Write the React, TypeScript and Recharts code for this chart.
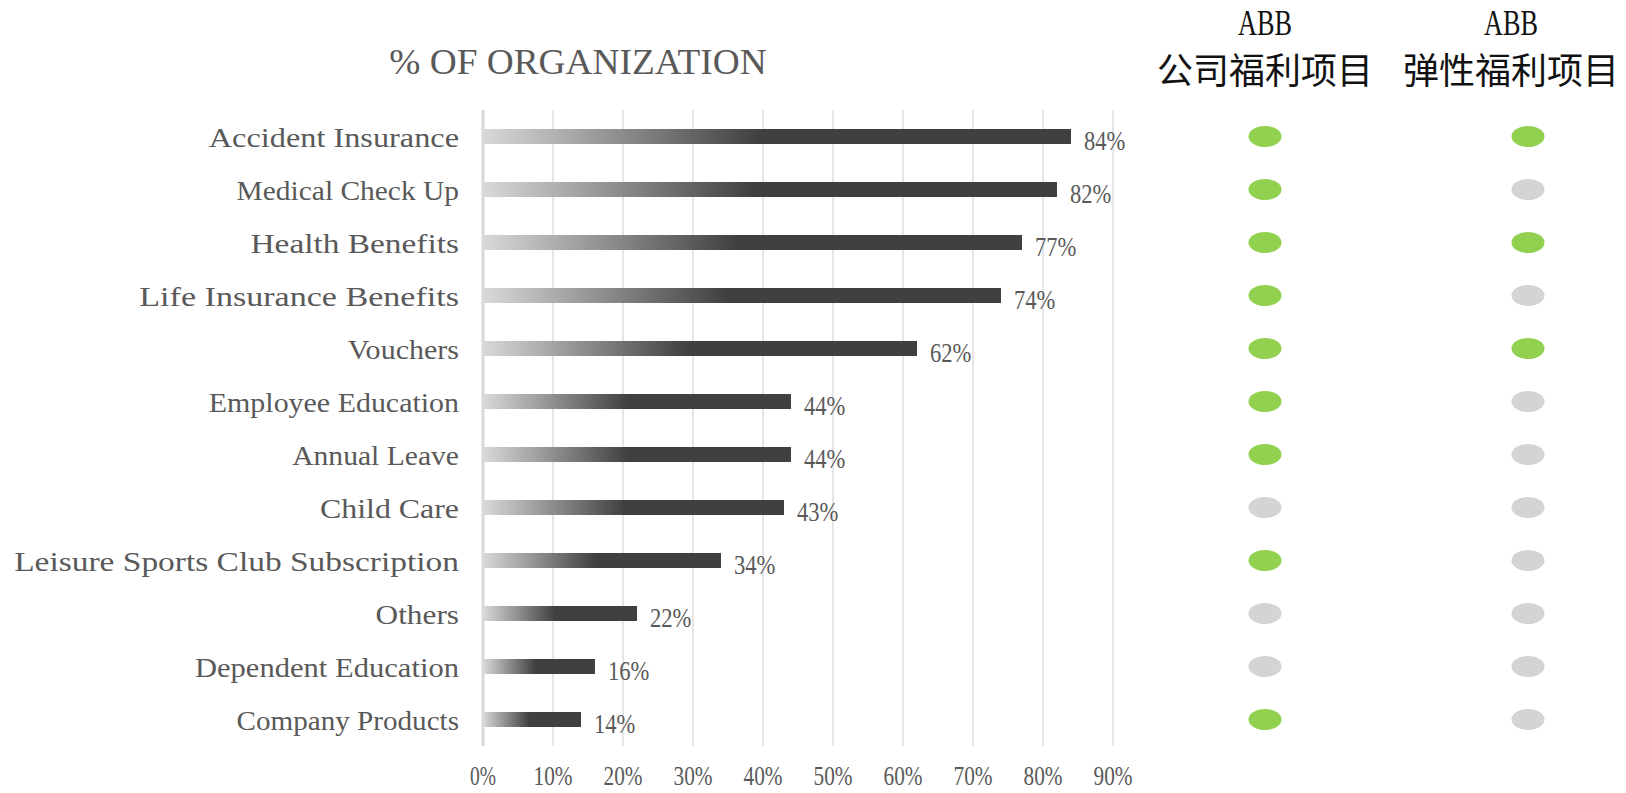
import React from 'react';
import {
  BarChart, Bar, XAxis, YAxis, CartesianGrid, LabelList,
  ScatterChart, Scatter,
} from 'recharts';

// categorias (de cima para baixo) e % de organizações
const categories = [
  'Accident Insurance',
  'Medical Check Up',
  'Health Benefits',
  'Life Insurance Benefits',
  'Vouchers',
  'Employee Education',
  'Annual Leave',
  'Child Care',
  'Leisure Sports Club Subscription',
  'Others',
  'Dependent Education',
  'Company Products',
];
const shares = [84, 82, 77, 74, 62, 44, 44, 43, 34, 22, 16, 14];
const xTicks = [0, 10, 20, 30, 40, 50, 60, 70, 80, 90];

// 1 = oferecido (verde), 0 = não (cinza)
const abbCompany = [1, 1, 1, 1, 1, 1, 1, 0, 1, 0, 0, 1];
const abbFlexible = [1, 0, 1, 0, 1, 0, 0, 0, 0, 0, 0, 0];
const columnTitles = [
  ['ABB', '公司福利项目'],
  ['ABB', '弹性福利项目'],
];
const title = '% OF ORGANIZATION';

const barData = categories.map((name, i) => ({ name, value: shares[i] }));
const companyPoints = categories.map((name, i) => ({ name, col: 0, on: abbCompany[i] }));
const flexiblePoints = categories.map((name, i) => ({ name, col: 1, on: abbFlexible[i] }));

const SERIF = '"Liberation Serif", "DejaVu Serif", serif';
const CJK = '"Noto Sans CJK SC", sans-serif';
const GREY = '#595959';
const GREEN = '#92d050';
const OFF = '#d4d4d4';

type TxtProps = {
  x: number; y: number; text: string; size: number; adv: number;
  anchor?: 'start' | 'middle' | 'end'; fill?: string;
};

// texto serifado "estreito": força largura monoespaçada estilo SimSun
const SerifText = ({ x, y, text, size, adv, anchor = 'start', fill = GREY }: TxtProps) => (
  <text
    x={x}
    y={y}
    fontFamily={SERIF}
    fontSize={size}
    textAnchor={anchor}
    dominantBaseline="central"
    fill={fill}
    textLength={text.length * adv}
    lengthAdjust="spacingAndGlyphs"
  >
    {text}
  </text>
);

const CategoryTick = (props: any) => (
  <SerifText x={props.x} y={props.y + 1} text={String(props.payload.value)} size={28} adv={13.9} anchor="end" />
);

const PercentTick = (props: any) => (
  <SerifText x={props.x} y={props.y + 30} text={`${props.payload.value}%`} size={27} adv={13} anchor="middle" />
);

const ValueLabel = (props: any) => {
  const { x, y, width, height, value } = props;
  return (
    <SerifText x={x + width + 13} y={y + height / 2 + 4} text={`${value}%`} size={27} adv={13.8} />
  );
};

const HeaderTick = (props: any) => {
  const idx = props.index ?? 0;
  const [top, bottom] = columnTitles[idx] ?? ['', ''];
  const cx = props.x - (idx === 1 ? 17 : 0);
  return (
    <g>
      <SerifText x={cx} y={props.y - 87} text={top} size={35} adv={18} anchor="middle" fill="#111" />
      <text x={cx} y={props.y - 42} fontFamily={CJK} fontSize={36} textAnchor="middle" dominantBaseline="central" fill="#111">
        {bottom}
      </text>
    </g>
  );
};

const Dot = (props: any) => (
  <ellipse cx={props.cx} cy={props.cy} rx={16.5} ry={10.5} fill={props.payload.on ? GREEN : OFF} />
);

export default function App() {
  return (
    <div style={{ position: 'absolute', left: 0, top: 0, width: 1626, height: 793, overflow: 'hidden', background: '#fff' }}>
      <svg width={1626} height={100} style={{ position: 'absolute', left: 0, top: 0 }}>
        <SerifText x={578} y={62} text={title} size={36} adv={22.2} anchor="middle" />
      </svg>

      <div style={{ position: 'absolute', left: 0, top: 0 }}>
        <BarChart
          layout="vertical"
          width={1160}
          height={793}
          data={barData}
          margin={{ top: 110, right: 47, bottom: 0, left: 0 }}
        >
          <defs>
            <linearGradient id="barFade" x1="0" y1="0" x2="1" y2="0">
              <stop offset="0%" stopColor="#d9d9d9" />
              <stop offset="47%" stopColor="#404040" />
              <stop offset="100%" stopColor="#404040" />
            </linearGradient>
          </defs>
          <CartesianGrid horizontal={false} stroke="#cccccc" />
          <XAxis
            type="number"
            domain={[0, 90]}
            ticks={xTicks}
            axisLine={false}
            tickLine={false}
            tickSize={0}
            tickMargin={0}
            height={47}
            tick={<PercentTick />}
            interval={0}
          />
          <YAxis
            type="category"
            dataKey="name"
            width={483}
            axisLine={{ stroke: '#d9d9d9', strokeWidth: 3 }}
            tickLine={false}
            tickSize={0}
            tickMargin={24}
            tick={<CategoryTick />}
            interval={0}
          />
          <Bar dataKey="value" fill="url(#barFade)" barSize={15} isAnimationActive={false}>
            <LabelList dataKey="value" content={<ValueLabel />} />
          </Bar>
        </BarChart>
      </div>

      <div style={{ position: 'absolute', left: 1120, top: 0 }}>
        <ScatterChart width={506} height={793} margin={{ top: 10, right: 0, bottom: 47, left: 0 }}>
          <XAxis
            type="number"
            dataKey="col"
            domain={[0, 1]}
            ticks={[0, 1]}
            orientation="top"
            height={100}
            padding={{ left: 145, right: 98 }}
            axisLine={false}
            tickLine={false}
            tickSize={0}
            tickMargin={0}
            tick={<HeaderTick />}
            interval={0}
          />
          <YAxis type="category" dataKey="name" hide width={0} allowDuplicatedCategory={false} reversed />
          <Scatter data={companyPoints} shape={<Dot />} isAnimationActive={false} />
          <Scatter data={flexiblePoints} shape={<Dot />} isAnimationActive={false} />
        </ScatterChart>
      </div>
    </div>
  );
}
